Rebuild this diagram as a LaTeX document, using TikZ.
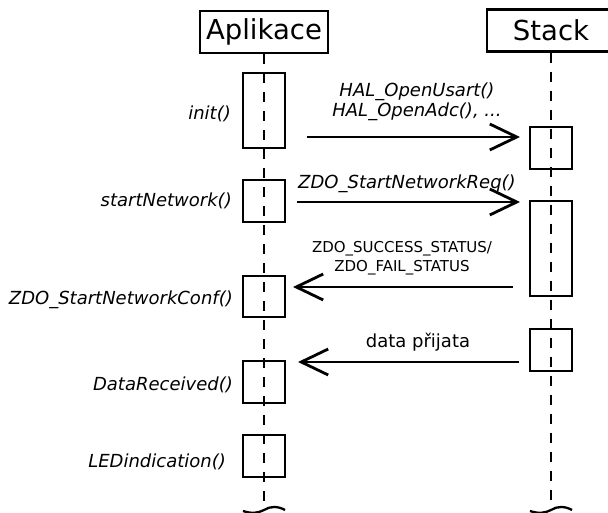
\documentclass[tikz,border=0pt]{standalone}
\usepackage{fontspec}
\setmainfont{DejaVu Sans}
\usetikzlibrary{arrows.meta}
\begin{document}
\begin{tikzpicture}[x=1pt,y=-1pt,
  actor/.style={draw, line width=2.3pt, minimum width=128pt, minimum height=42pt, inner sep=0pt, font=\fontsize{27.5}{30}\selectfont},
  actbox/.style={draw, line width=2.3pt, minimum width=42pt, inner sep=0pt},
  lifeline/.style={line width=1.4pt, dash pattern=on 10pt off 9pt},
  msg/.style={line width=2.8pt, -{Straight Barb[length=27pt, width=26pt, line width=2.8pt]}},
  lbl/.style={inner sep=0pt, font=\fontsize{18}{21}\selectfont\itshape},
  wave/.style={line width=2.3pt}
]
\useasboundingbox (0,0) rectangle (608,513);
\clip (0,0) rectangle (608,513);

% actors
\node[actor] (app) at (264,32) {Aplikace};
\node[actor] (stk) at (551,30.5) {Stack};

% lifeline ends
\coordinate (appEnd) at (264,510);
\coordinate (stkEnd) at (551,510);
\draw[lifeline] (app.south) -- (appEnd);
\draw[lifeline] (stk.south) -- (stkEnd);

% activation boxes
\node[actbox, minimum height=75pt] (a1) at (264,110.5) {};
\node[actbox, minimum height=42pt] (a2) at (264,201) {};
\node[actbox, minimum height=41pt] (a3) at (264,296.5) {};
\node[actbox, minimum height=42pt] (a4) at (264,382) {};
\node[actbox, minimum height=42pt] (a5) at (264,456) {};
\node[actbox, minimum height=42pt] (s1) at (551,148) {};
\node[actbox, minimum height=95pt] (s2) at (551,248.5) {};
\node[actbox, minimum height=42pt] (s3) at (551,350) {};

% message end points
\coordinate (m1a) at (307,137);  \coordinate (m1b) at (520,137);
\coordinate (m2a) at (297,202);  \coordinate (m2b) at (520,202);
\coordinate (m3a) at (513,287);  \coordinate (m3b) at (293,287);
\coordinate (m4a) at (519,362);  \coordinate (m4b) at (298,362);
\draw[msg] (m1a) -- (m1b);
\draw[msg] (m2a) -- (m2b);
\draw[msg] (m3a) -- (m3b);
\draw[msg] (m4a) -- (m4b);

% message labels
\node[lbl, align=center, font=\fontsize{18}{20}\selectfont\itshape] (t1) at (417,101.5) {HAL\_OpenUsart()\\HAL\_OpenAdc(), ...};
\node[lbl] (t2) at (407,184) {ZDO\_StartNetworkReq()};
\node[inner sep=0pt, align=center, font=\fontsize{15}{18.5}\selectfont] (t3) at (402,258) {ZDO\_SUCCESS\_STATUS/\\ZDO\_FAIL\_STATUS};
\node[inner sep=0pt, font=\fontsize{18}{21}\selectfont] (t4) at (418,342) {data přijata};

% activity labels
\node[lbl, anchor=east] (l1) at (231,114) {init()};
\node[lbl, anchor=east] (l2) at (232,201) {startNetwork()};
\node[lbl, anchor=east] (l3) at (233,300) {ZDO\_StartNetworkConf()};
\node[lbl, anchor=east] (l4) at (233,385) {DataReceived()};
\node[lbl, anchor=east] (l5) at (226,462) {LEDindication()};

% wavy cut marks
\draw[wave] (243,511) .. controls (252,514) and (258,513) .. (appEnd) .. controls (270,506) and (278,506) .. (285,510);
\draw[wave] (530,511) .. controls (539,514) and (545,513) .. (stkEnd) .. controls (557,506) and (565,506) .. (572,510);
\end{tikzpicture}
\end{document}
